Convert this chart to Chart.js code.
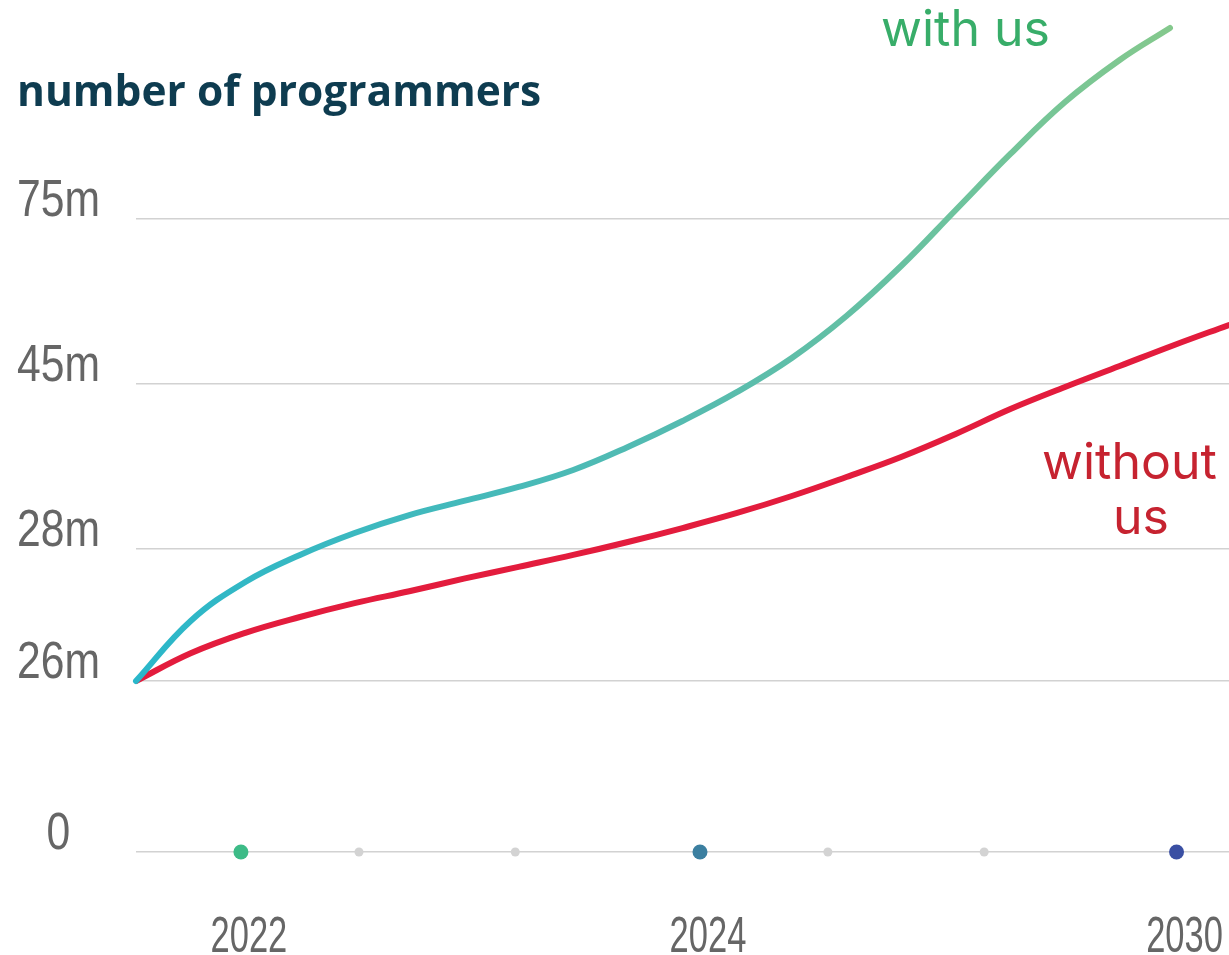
<!DOCTYPE html>
<html>
<head>
<meta charset="utf-8">
<script src="https://cdn.jsdelivr.net/npm/chart.js@4.4.1/dist/chart.umd.min.js"></script>
<style>
  html, body { margin: 0; padding: 0; background: #fff; }
  #wrap { position: relative; width: 1229px; height: 955px; }
  .note { position: absolute; line-height: 1; white-space: nowrap; }
  #title { left: 17px; top: 61px; font: 700 42.5px "Open Sans", sans-serif; color: #0e3c50; }
  .label { font: 400 50px Inter, "Noto Sans", sans-serif; }
  #withUs { left: 881px; top: -2px; color: #38ad69; }
  #without1 { left: 1042px; top: 431px; color: #c62330; }
  #without2 { left: 1113px; top: 486px; color: #c62330; }
</style>
</head>
<body>
<div id="wrap">
  <canvas id="chart"></canvas>
  <div class="note" id="title">number of programmers</div>
  <div class="note label" id="withUs">with us</div>
  <div class="note label" id="without1">without</div>
  <div class="note label" id="without2">us</div>
</div>
<script>
// timeline position (0-100 across the plot) and values in millions
const withUsX = [0, 5, 10, 15, 20, 25, 30, 35, 40, 45, 50, 55, 60, 65, 70, 75, 80, 85, 90, 94.6];
const withUsValues = [26, 26.91, 27.5, 27.91, 29.65, 31.5, 32.95, 34.39, 36.14, 38.51, 41.19, 44.18, 49.73, 57.36, 66.45, 76.64, 86.82, 96.27, 103.91, 109.73];
const withoutUsX = [0, 5, 10, 15, 20, 25, 30, 35, 40, 45, 50, 55, 60, 65, 70, 75, 80, 85, 90, 95, 100];
const withoutUsValues = [26, 26.42, 26.73, 26.97, 27.18, 27.36, 27.55, 27.73, 27.91, 28.72, 30.16, 31.71, 33.46, 35.42, 37.48, 39.85, 42.42, 44.69, 48.27, 52.09, 55.73];

const yTickValues = [0, 26, 28, 45, 75];
const yTickLabels = ["0", "26m", "28m", "45m", "75m"];
const xTickPositions = [9.6, 51.6, 95.2];
const xTickLabels = ["2022", "2024", "2030"];
const axisDotX = [9.6, 20.4, 34.7, 51.6, 63.3, 77.6, 95.2];

// the value axis is not linear: each gridline band has its own height
const yTickLevels = [0, 171, 303, 468, 633];
const topSlope = (633 - 468) / (75 - 45);

function levelOf(v) {
    for (let i = 1; i < yTickValues.length; i++) {
        if (v <= yTickValues[i]) {
            const a = yTickValues[i - 1], b = yTickValues[i];
            return yTickLevels[i - 1] + (v - a) / (b - a) * (yTickLevels[i] - yTickLevels[i - 1]);
        }
    }
    return yTickLevels[yTickLevels.length - 1] + (v - yTickValues[yTickValues.length - 1]) * topSlope;
}

function valueOf(level) {
    for (let i = 1; i < yTickLevels.length; i++) {
        if (level <= yTickLevels[i]) {
            const a = yTickLevels[i - 1], b = yTickLevels[i];
            return yTickValues[i - 1] + (level - a) / (b - a) * (yTickValues[i] - yTickValues[i - 1]);
        }
    }
    return yTickValues[yTickValues.length - 1] + (level - yTickLevels[yTickLevels.length - 1]) / topSlope;
}

// tick labels in the original are a narrow face, squeeze them horizontally
function drawNarrowLabels(scale, squeeze) {
    const ctx = scale.ctx;
    for (const item of scale.getLabelItems()) {
        const o = item.options;
        ctx.save();
        ctx.translate(o.translation[0], o.translation[1]);
        ctx.scale(squeeze, 1);
        ctx.font = item.font.string;
        ctx.fillStyle = o.color;
        ctx.textAlign = o.textAlign;
        ctx.textBaseline = o.textBaseline;
        ctx.fillText(item.label, 0, item.textOffset);
        ctx.restore();
    }
}

class BandScale extends Chart.LinearScale {
    buildTicks() {
        return yTickValues.map(v => ({ value: v }));
    }
    getPixelForValue(value) {
        if (value === null || value === undefined) return NaN;
        return this.getPixelForDecimal(levelOf(value) / levelOf(this.max));
    }
    getValueForPixel(pixel) {
        return valueOf(this.getDecimalForPixel(pixel) * levelOf(this.max));
    }
    drawLabels() {
        drawNarrowLabels(this, 0.82);
    }
}
BandScale.id = "bands";

class TimelineScale extends Chart.LinearScale {
    drawLabels() {
        drawNarrowLabels(this, 0.69);
    }
}
TimelineScale.id = "timeline";
Chart.register(BandScale, TimelineScale);

const dotColors = ["#3dbb87", "#d3d3d3", "#d3d3d3", "#3b7fa0", "#d3d3d3", "#d3d3d3", "#3a4fa3"];
const dotSizes = [7.5, 4.5, 4.5, 7.5, 4.5, 4.5, 7.5];

function tealGradient(context) {
    const chart = context.chart;
    const area = chart.chartArea;
    if (!area) return "#3bb8c0";
    const g = chart.ctx.createLinearGradient(area.left, 0, area.right, 0);
    g.addColorStop(0, "#2ab7ca");
    g.addColorStop(0.5, "#55bbb0");
    g.addColorStop(0.78, "#70c49b");
    g.addColorStop(0.96, "#86c98c");
    return g;
}

const labelFont = "'Liberation Sans', Arial, sans-serif";

new Chart(document.getElementById("chart"), {
    type: "line",
    data: {
        datasets: [{
            label: "with us",
            data: withUsX.map((x, i) => ({ x: x, y: withUsValues[i] })),
            borderColor: tealGradient,
            borderWidth: 6,
            borderCapStyle: "round",
            tension: 0.4,
            pointRadius: 0,
            clip: false
        }, {
            label: "without us",
            data: withoutUsX.map((x, i) => ({ x: x, y: withoutUsValues[i] })),
            borderColor: "#e31c3d",
            borderWidth: 6,
            borderCapStyle: "round",
            tension: 0.4,
            pointRadius: 0
        }, {
            label: "timeline",
            data: axisDotX.map(x => ({ x: x, y: 0 })),
            showLine: false,
            pointRadius: dotSizes,
            pointBackgroundColor: dotColors,
            pointBorderWidth: 0,
            clip: false
        }]
    },
    options: {
        responsive: true,
        maintainAspectRatio: false,
        animation: false,
        events: [],
        layout: { autoPadding: false, padding: { top: 10, left: 0, right: 0, bottom: 0 } },
        plugins: { legend: { display: false }, tooltip: { enabled: false } },
        scales: {
            x: {
                type: "timeline",
                min: 0,
                max: 100,
                grid: { display: false },
                border: { display: false },
                afterBuildTicks: axis => { axis.ticks = xTickPositions.map(v => ({ value: v })); },
                afterFit: axis => {
                    axis.height = 103;
                    axis.paddingLeft = 0;
                    axis.paddingRight = 0;
                },
                ticks: {
                    autoSkip: false,
                    maxRotation: 0,
                    padding: 53,
                    labelOffset: 8,
                    color: "#666",
                    font: { family: labelFont, size: 50, lineHeight: 1 },
                    callback: (v, i) => xTickLabels[i]
                }
            },
            y: {
                type: "bands",
                min: 0,
                max: 113,
                border: { display: false },
                grid: { color: "#d2d2d2", lineWidth: 1.5, drawTicks: false },
                afterFit: axis => {
                    axis.width = 136;
                    axis.paddingTop = 0;
                    axis.paddingBottom = 0;
                },
                ticks: {
                    color: "#666",
                    crossAlign: "center",
                    padding: 27,
                    labelOffset: -17,
                    font: { family: labelFont, size: 52 },
                    callback: (v, i) => yTickLabels[i]
                }
            }
        }
    }
});
</script>
</body>
</html>
